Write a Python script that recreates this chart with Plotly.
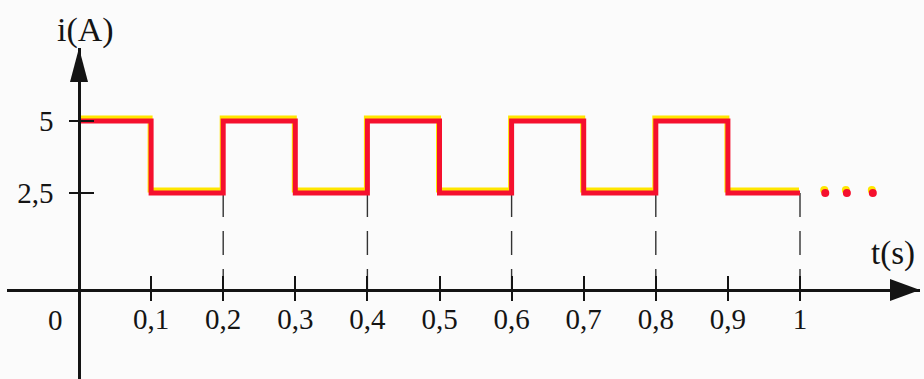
import plotly.graph_objects as go

# ---------------- data ----------------
t_steps = [0.0, 0.1, 0.2, 0.3, 0.4, 0.5, 0.6, 0.7, 0.8, 0.9, 1.0]
i_steps = [5, 2.5, 5, 2.5, 5, 2.5, 5, 2.5, 5, 2.5, 2.5]
dash_t = [0.2, 0.4, 0.6, 0.8, 1.0]
dots_t = [1.035, 1.065, 1.101]
dots_i = [2.5, 2.5, 2.5]
x_tickvals = [0.1, 0.2, 0.3, 0.4, 0.5, 0.6, 0.7, 0.8, 0.9, 1.0]
x_ticktext = ["0,1", "0,2", "0,3", "0,4", "0,5", "0,6", "0,7", "0,8", "0,9", "1"]
y_tickvals = [2.5, 5]
y_ticktext = ["2,5", "5"]

# ---------------- layout geometry (pixels) ----------------
W, H = 924, 379
X0_PX, X_PER = 79, 721          # t=0 pixel, pixels per second
Y5_PX, Y25_PX = 121, 193        # pixel rows of 5 A and 2.5 A
XAXIS_PX = 290                  # row of the t axis
YTOP_PX = 48                    # tip of the i axis arrow
XL_PX, XR_PX = 7, 920           # ends of the t axis

K = (Y25_PX - Y5_PX) / 2.5


def yval(p):
    return 5 - (p - Y5_PX) / K


def xval(p):
    return (p - X0_PX) / X_PER


y_lo, y_hi = yval(H), yval(YTOP_PX)
x_lo, x_hi = xval(XL_PX), xval(XR_PX)
y_axis0 = yval(XAXIS_PX)
shift = 3.0 / K
xshift = 1.0 / X_PER

FONT = "Liberation Serif, Times New Roman, serif"
INK = "#141414"
RED = "#f5102e"
YEL = "#ffe600"

fig = go.Figure()

# dashed guide lines
dx, dy = [], []
for t in dash_t:
    dx += [t, t, None]
    dy += [2.5, y_axis0, None]
fig.add_trace(go.Scatter(x=dx, y=dy, mode="lines",
                         line=dict(color="#333333", width=1.4, dash="24px,14px"),
                         hoverinfo="skip", showlegend=False))

# dummy trace to activate tick-duplicate axes
fig.add_trace(go.Scatter(x=[None], y=[None], xaxis="x2", yaxis="y2",
                         showlegend=False, hoverinfo="skip"))

# yellow highlight (shifted slightly up/left via offset axes)
fig.add_trace(go.Scatter(x=t_steps, y=i_steps, mode="lines", line_shape="hv",
                         line=dict(color=YEL, width=5), xaxis="x3", yaxis="y3",
                         hoverinfo="skip", showlegend=False))
fig.add_trace(go.Scatter(x=dots_t, y=dots_i, mode="markers", xaxis="x3", yaxis="y3",
                         marker=dict(color=YEL, size=8),
                         hoverinfo="skip", showlegend=False))
# red signal (drawn on a later overlay so it sits on top)
fig.add_trace(go.Scatter(x=t_steps, y=i_steps, mode="lines", line_shape="hv",
                         line=dict(color=RED, width=5), xaxis="x4", yaxis="y4",
                         showlegend=False))
fig.add_trace(go.Scatter(x=dots_t, y=dots_i, mode="markers", xaxis="x4", yaxis="y4",
                         marker=dict(color=RED, size=8),
                         hoverinfo="skip", showlegend=False))

xdom = [XL_PX / W, XR_PX / W]
ydom = [0, (H - YTOP_PX) / H]
xpos = (H - XAXIS_PX) / H
ypos = X0_PX / W

fig.update_layout(
    width=W, height=H, autosize=False,
    margin=dict(l=0, r=0, t=0, b=0, pad=0),
    paper_bgcolor="#fbfbfb", plot_bgcolor="#fbfbfb",
    xaxis=dict(domain=xdom, range=[x_lo, x_hi], anchor="free", position=xpos,
               showgrid=False, zeroline=False, showline=True, linecolor=INK,
               linewidth=2.5, ticks="outside", ticklen=9, tickwidth=2,
               tickcolor=INK, tickvals=x_tickvals, ticktext=x_ticktext,
               ticklabelstandoff=-7,
               tickfont=dict(family=FONT, size=29, color=INK)),
    xaxis2=dict(domain=xdom, range=[x_lo, x_hi], overlaying="x", side="top",
                anchor="free", position=xpos, showgrid=False, zeroline=False,
                showline=False, ticks="outside", ticklen=14, tickwidth=2,
                tickcolor=INK, tickvals=x_tickvals, showticklabels=False),
    xaxis3=dict(domain=xdom, range=[x_lo + xshift, x_hi + xshift], overlaying="x",
                anchor="y3", visible=False),
    xaxis4=dict(domain=xdom, range=[x_lo, x_hi], overlaying="x",
                anchor="y4", visible=False),
    yaxis=dict(domain=ydom, range=[y_lo, y_hi], anchor="free", position=ypos,
               showgrid=False, zeroline=False, showline=True, linecolor=INK,
               linewidth=2.5, ticks="outside", ticklen=9, tickwidth=2,
               tickcolor=INK, tickvals=y_tickvals, ticktext=y_ticktext,
               ticklabelstandoff=10,
               tickfont=dict(family=FONT, size=29, color=INK)),
    yaxis2=dict(domain=ydom, range=[y_lo, y_hi], overlaying="y", side="right",
                anchor="free", position=ypos, showgrid=False, zeroline=False,
                showline=False, ticks="outside", ticklen=14, tickwidth=2,
                tickcolor=INK, tickvals=y_tickvals, showticklabels=False),
    yaxis3=dict(domain=ydom, range=[y_lo - shift, y_hi - shift], overlaying="y",
                anchor="x3", visible=False),
    yaxis4=dict(domain=ydom, range=[y_lo, y_hi], overlaying="y",
                anchor="x4", visible=False),
    shapes=[
        dict(type="path", xref="x", yref="y", xsizemode="pixel", ysizemode="pixel",
             xanchor=0, yanchor=y_hi, path="M -9,-34 L 9,-34 L 0,0 Z",
             fillcolor=INK, line=dict(width=0)),
        dict(type="path", xref="x", yref="y", xsizemode="pixel", ysizemode="pixel",
             xanchor=x_hi, yanchor=y_axis0, path="M -30,-11 L -30,11 L 0,0 Z",
             fillcolor=INK, line=dict(width=0)),
    ],
    annotations=[
        dict(text="i(A)", xref="paper", yref="paper", x=85 / W, y=1 - 30 / H,
             xanchor="center", yanchor="middle", showarrow=False,
             font=dict(family=FONT, size=34, color=INK)),
        dict(text="t(s)", xref="paper", yref="paper", x=893 / W, y=1 - 253 / H,
             xanchor="center", yanchor="middle", showarrow=False,
             font=dict(family=FONT, size=33, color=INK)),
        dict(text="0", xref="x", yref="y", x=0, y=y_axis0,
             xanchor="center", yanchor="middle", xshift=-24, yshift=-30,
             showarrow=False, font=dict(family=FONT, size=29, color=INK)),
    ],
)

fig.write_html("out.html",
               config={"displayModeBar": False},
               post_script="document.body.style.margin='0';"
                           "document.body.style.padding='0';"
                           "document.body.style.overflow='hidden';")
